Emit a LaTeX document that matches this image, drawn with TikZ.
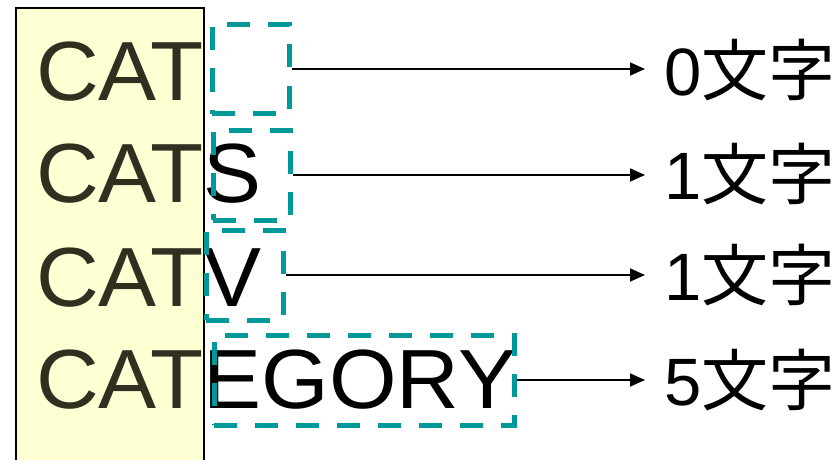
\documentclass[tikz,border=0pt]{standalone}
\usepackage{fontspec}
\setmainfont{Liberation Sans}
\newfontfamily\wordfont[FakeStretch=1.035]{Liberation Sans}
\newfontfamily\cjk{Noto Sans CJK JP}
\usetikzlibrary{arrows.meta}
\definecolor{padyellow}{RGB}{255,255,212}
\definecolor{catcol}{RGB}{48,48,32}
\definecolor{dashteal}{RGB}{0,153,153}
\begin{document}
\begin{tikzpicture}[x=1pt,y=-1pt,
  word/.style={anchor=base west,inner sep=0pt,font=\wordfont\fontsize{84}{84}\selectfont},
  dashbox/.style={draw=dashteal,line width=5pt,dash pattern=on 23pt off 18pt,inner sep=0pt},
  lbl/.style={anchor=west,inner sep=0pt,font=\fontsize{67}{67}\selectfont},
  conn/.style={line width=1.8pt,-{Triangle[length=15pt,width=13pt]},shorten >=19pt}]
\useasboundingbox (0,0) rectangle (838,460);
% prefix panel
\fill[padyellow] (16,8) rectangle (204,460);
\draw[line width=2pt] (16,460) -- (16,8) -- (204,8) -- (204,460);
% words
\node[word] (w1) at (36,100) {\color{catcol}CAT};
\node[word] (w2) at (36,202) {{\color{catcol}CAT}S};
\node[word] (w3) at (36,306) {{\color{catcol}CAT}V};
\node[word] (w4) at (36,408) {{\color{catcol}CAT}EGORY};
% dashed suffix boxes
\node[dashbox,minimum width=77pt,minimum height=89pt] (b1) at (250.5,69) {};
\node[dashbox,minimum width=77pt,minimum height=90pt] (b2) at (251.5,175) {};
\node[dashbox,minimum width=77pt,minimum height=90pt] (b3) at (244.5,275) {};
\node[dashbox,minimum width=300pt,minimum height=90pt] (b4) at (364,380) {};
% labels
\node[lbl] (l1) at (664,70) {0{\cjk 文字}};
\node[lbl] (l2) at (664,174) {1{\cjk 文字}};
\node[lbl] (l3) at (664,275) {1{\cjk 文字}};
\node[lbl] (l4) at (664,380) {5{\cjk 文字}};
% connectors
\draw[conn] (b1.east) -- (l1.west |- b1.east);
\draw[conn] (b2.east) -- (l2.west |- b2.east);
\draw[conn] (b3.east) -- (l3.west |- b3.east);
\draw[conn] (b4.east) -- (l4.west |- b4.east);
\end{tikzpicture}
\end{document}
